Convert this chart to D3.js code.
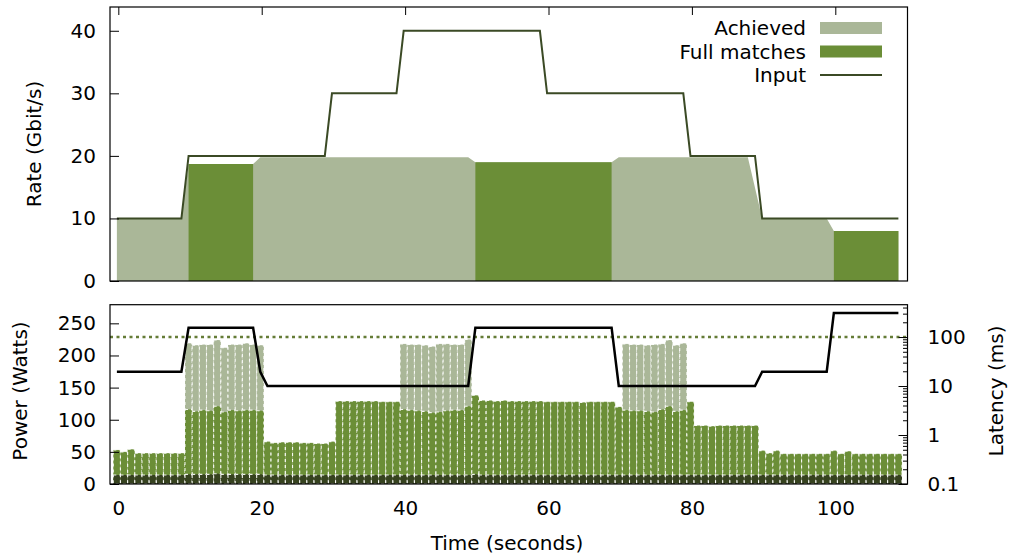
<!DOCTYPE html>
<html>
<head>
<meta charset="utf-8">
<script src="https://cdn.jsdelivr.net/npm/d3@7"></script>
<style>
body { margin: 0; background: #fff; }
text { font-family: "DejaVu Sans", sans-serif; font-size: 20px; fill: #000; }
</style>
</head>
<body>
<div id="chart-area"></div>
<script>

// samples are taken once per second, slightly before the tick
var T0 = -0.2;

// ---- top panel: rate (Gbit/s), one value per second
var inputRate = [
    10, 10, 10, 10, 10, 10, 10, 10, 10, 10,
    20, 20, 20, 20, 20, 20, 20, 20, 20, 20,
    20, 20, 20, 20, 20, 20, 20, 20, 20, 20,
    30, 30, 30, 30, 30, 30, 30, 30, 30, 30,
    40, 40, 40, 40, 40, 40, 40, 40, 40, 40,
    40, 40, 40, 40, 40, 40, 40, 40, 40, 40,
    30, 30, 30, 30, 30, 30, 30, 30, 30, 30,
    30, 30, 30, 30, 30, 30, 30, 30, 30, 30,
    20, 20, 20, 20, 20, 20, 20, 20, 20, 20,
    10, 10, 10, 10, 10, 10, 10, 10, 10, 10,
    10, 10, 10, 10, 10, 10, 10, 10, 10, 10
];
var achieved = [
    10, 10, 10, 10, 10, 10, 10, 10, 10, 10,
    18.7, 18.7, 18.7, 18.7, 18.7, 18.7, 18.7, 18.7, 18.7, 18.7,
    19.8, 19.8, 19.8, 19.8, 19.8, 19.8, 19.8, 19.8, 19.8, 19.8,
    19.8, 19.8, 19.8, 19.8, 19.8, 19.8, 19.8, 19.8, 19.8, 19.8,
    19.8, 19.8, 19.8, 19.8, 19.8, 19.8, 19.8, 19.8, 19.8, 19.8,
    19.0, 19.0, 19.0, 19.0, 19.0, 19.0, 19.0, 19.0, 19.0, 19.0,
    19.0, 19.0, 19.0, 19.0, 19.0, 19.0, 19.0, 19.0, 19.0, 19.0,
    19.8, 19.8, 19.8, 19.8, 19.8, 19.8, 19.8, 19.8, 19.8, 19.8,
    19.8, 19.8, 19.8, 19.8, 19.8, 19.8, 19.8, 19.8, 19.8, 14.9,
    10, 10, 10, 10, 10, 10, 10, 10, 10, 10,
    8.0, 8.0, 8.0, 8.0, 8.0, 8.0, 8.0, 8.0, 8.0, 8.0
];
var N = null;
var fullMatches = [
    N, N, N, N, N, N, N, N, N, N,
    18.7, 18.7, 18.7, 18.7, 18.7, 18.7, 18.7, 18.7, 18.7, 18.7,
    N, N, N, N, N, N, N, N, N, N,
    N, N, N, N, N, N, N, N, N, N,
    N, N, N, N, N, N, N, N, N, N,
    19.0, 19.0, 19.0, 19.0, 19.0, 19.0, 19.0, 19.0, 19.0, 19.0,
    19.0, 19.0, 19.0, 19.0, 19.0, 19.0, 19.0, 19.0, 19.0, 19.0,
    N, N, N, N, N, N, N, N, N, N,
    N, N, N, N, N, N, N, N, N, N,
    N, N, N, N, N, N, N, N, N, N,
    8.0, 8.0, 8.0, 8.0, 8.0, 8.0, 8.0, 8.0, 8.0, 8.0
];

// ---- bottom panel: power (Watts) bars and latency (ms)
var powerPeak = [
    N, N, N, N, N, N, N, N, N, N,
    219, 216, 217, 217, 224, 212, 217, 217, 219, 217,
    216, N, N, N, N, N, N, N, N, N,
    N, N, N, N, N, N, N, N, N, N,
    218, 217, 217, 216, 214, 218, 218, 217, 217, 225,
    N, N, N, N, N, N, N, N, N, N,
    N, N, N, N, N, N, N, N, N, N,
    N, 218, 217, 217, 216, 217, 218, 224, 216, 219,
    N, N, N, N, N, N, N, N, N, N,
    N, N, N, N, N, N, N, N, N, N,
    N, N, N, N, N, N, N, N, N, N
];
var powerTotal = [
    53, 50, 54, 48, 48, 48, 48, 48, 48, 48,
    116, 113, 115, 114, 121, 112, 115, 114, 115, 115,
    114, 66, 64, 65, 65, 65, 64, 64, 63, 63,
    66, 129, 129, 129, 129, 129, 129, 128, 128, 128,
    116, 115, 114, 113, 111, 112, 114, 115, 115, 121,
    138, 130, 130, 129, 130, 129, 129, 129, 129, 129,
    128, 128, 128, 128, 128, 127, 128, 128, 128, 128,
    120, 115, 114, 114, 113, 112, 116, 121, 113, 115,
    128, 91, 91, 90, 91, 91, 91, 91, 91, 91,
    52, 48, 52, 47, 47, 47, 47, 47, 47, 47,
    52, 47, 51, 47, 47, 47, 47, 47, 47, 47
];
var powerIdle = [
    14, 14, 14, 14, 14, 14, 14, 14, 14, 14,
    15, 15, 15, 15, 16, 15, 15, 15, 15, 15,
    15, 14, 14, 14, 14, 14, 14, 14, 14, 14,
    14, 14, 14, 14, 14, 14, 14, 14, 14, 14,
    14, 14, 14, 14, 14, 14, 14, 14, 14, 14,
    15, 14, 14, 14, 14, 14, 14, 14, 14, 14,
    14, 14, 14, 14, 14, 14, 14, 14, 14, 14,
    14, 14, 14, 14, 14, 14, 14, 14, 14, 14,
    14, 14, 14, 14, 14, 14, 14, 14, 14, 14,
    14, 14, 14, 14, 14, 14, 14, 14, 14, 14,
    14, 14, 14, 14, 14, 14, 14, 14, 14, 14
];
var latency = [
    19.5, 19.5, 19.5, 19.5, 19.5, 19.5, 19.5, 19.5, 19.5, 19.5,
    155, 155, 155, 155, 155, 155, 155, 155, 155, 155,
    19.5, 10, 10, 10, 10, 10, 10, 10, 10, 10,
    10, 10, 10, 10, 10, 10, 10, 10, 10, 10,
    10, 10, 10, 10, 10, 10, 10, 10, 10, 10,
    155, 155, 155, 155, 155, 155, 155, 155, 155, 155,
    155, 155, 155, 155, 155, 155, 155, 155, 155, 155,
    10, 10, 10, 10, 10, 10, 10, 10, 10, 10,
    10, 10, 10, 10, 10, 10, 10, 10, 10, 10,
    19.5, 19.5, 19.5, 19.5, 19.5, 19.5, 19.5, 19.5, 19.5, 19.5,
    310, 310, 310, 310, 310, 310, 310, 310, 310, 310
];
var latencyLimit = 100;

var xTicks = [0, 20, 40, 60, 80, 100];
var rateTicks = [0, 10, 20, 30, 40];
var powerTicks = [0, 50, 100, 150, 200, 250];
var latencyTicks = [0.1, 1, 10, 100];
var legendNames = ['Achieved', 'Full matches', 'Input'];

var col = {
    achieved: '#aab798',
    full: '#6b8e37',
    input: '#3b4a25',
    idle: '#36421f',
    limit: '#657c37'
};

var svg = d3.select('#chart-area').append('svg')
    .attr('width', 1011)
    .attr('height', 560);

var x = d3.scaleLinear().domain([-1.16, 110.07]).range([110, 907.5]);
var yRate = d3.scaleLinear().domain([0, 43.8]).range([281, 7]);
var yPow = d3.scaleLinear().domain([0, 279]).range([484, 304.7]);
var yLat = d3.scaleLog().domain([0.1, 457]).range([484, 304.7]);

var secs = d3.range(inputRate.length);
function tx(i) { return x(i + T0); }

function styleAxis(g) {
    g.select('.domain').remove();
    g.selectAll('line').attr('stroke', '#000');
    g.selectAll('text').attr('font-size', null).attr('font-family', null);
    g.attr('font-size', null).attr('font-family', null);
}

// ================= top panel
var gTop = svg.append('g');

gTop.append('path').datum(secs)
    .attr('fill', col.achieved)
    .attr('d', d3.area()
        .x(i => tx(i))
        .y0(yRate(0))
        .y1(i => yRate(achieved[i])));

gTop.append('path').datum(secs)
    .attr('fill', col.full)
    .attr('d', d3.area()
        .defined(i => fullMatches[i] != null)
        .x(i => tx(i))
        .y0(yRate(0))
        .y1(i => yRate(fullMatches[i])));

gTop.append('path').datum(secs)
    .attr('fill', 'none')
    .attr('stroke', col.input)
    .attr('stroke-width', 2)
    .attr('d', d3.line()
        .x(i => tx(i))
        .y(i => yRate(inputRate[i])));

gTop.append('g')
    .attr('transform', 'translate(110,0)')
    .call(d3.axisLeft(yRate).tickValues(rateTicks).tickSize(-9).tickPadding(14))
    .call(styleAxis);

gTop.append('g')
    .attr('transform', 'translate(0,7)')
    .call(d3.axisTop(x).tickValues(xTicks).tickSize(-8).tickFormat(''))
    .call(styleAxis);

gTop.append('rect')
    .attr('x', 110).attr('y', 7)
    .attr('width', 797.5).attr('height', 274)
    .attr('fill', 'none').attr('stroke', '#000').attr('stroke-width', 1.2);

// legend
var leg = gTop.append('g');
legendNames.forEach(function (name, k) {
    var ly = 28 + k * 23.5;
    leg.append('text')
        .attr('x', 806).attr('y', ly).attr('dy', '0.35em')
        .attr('text-anchor', 'end')
        .text(name);
    if (k < 2) {
        leg.append('rect')
            .attr('x', 820).attr('y', ly - 6)
            .attr('width', 62).attr('height', 12)
            .attr('fill', k == 0 ? col.achieved : col.full);
    } else {
        leg.append('line')
            .attr('x1', 820).attr('x2', 882)
            .attr('y1', ly).attr('y2', ly)
            .attr('stroke', col.input).attr('stroke-width', 2);
    }
});

// ================= bottom panel
var gBot = svg.append('g');

gBot.append('g')
    .attr('transform', 'translate(0,484)')
    .call(d3.axisBottom(x).tickValues(xTicks).tickSize(-9).tickPadding(17))
    .call(styleAxis);

var bw = x(1) - x(0);
function bars(vals, color) {
    gBot.append('g').selectAll('rect')
        .data(secs.filter(i => vals[i] != null))
        .enter()
        .append('rect')
        .attr('x', i => tx(i) - bw / 2)
        .attr('width', bw)
        .attr('y', i => yPow(vals[i]))
        .attr('height', i => yPow(0) - yPow(vals[i]))
        .attr('fill', color)
        .attr('stroke', '#fff')
        .attr('stroke-width', 1.1)
        .attr('stroke-opacity', 0.9)
        .attr('stroke-dasharray', '3,3');
}
bars(powerPeak, col.achieved);
bars(powerTotal, col.full);
bars(powerIdle, col.idle);

gBot.append('line')
    .attr('x1', 110).attr('x2', 907.5)
    .attr('y1', yLat(latencyLimit)).attr('y2', yLat(latencyLimit))
    .attr('stroke', col.limit)
    .attr('stroke-width', 2.5)
    .attr('stroke-dasharray', '3,3.5');

gBot.append('path').datum(secs)
    .attr('fill', 'none')
    .attr('stroke', '#000')
    .attr('stroke-width', 2.5)
    .attr('d', d3.line()
        .x(i => tx(i))
        .y(i => yLat(latency[i])));

gBot.append('g')
    .attr('transform', 'translate(110,0)')
    .call(d3.axisLeft(yPow).tickValues(powerTicks).tickSize(-9).tickPadding(14))
    .call(styleAxis);

// right log axis: majors with labels, then minor ticks
gBot.append('g')
    .attr('transform', 'translate(907.5,0)')
    .call(d3.axisRight(yLat).tickValues(latencyTicks).tickSize(-9).tickPadding(20)
        .tickFormat(d => String(d)))
    .call(styleAxis);

var minor = [];
[0.1, 1, 10, 100].forEach(function (dec) {
    for (var m = 2; m <= 9; m++) {
        if (dec * m <= 457) minor.push(dec * m);
    }
});
gBot.append('g')
    .attr('transform', 'translate(907.5,0)')
    .call(d3.axisRight(yLat).tickValues(minor).tickSize(-4.5).tickFormat(''))
    .call(styleAxis);

gBot.append('rect')
    .attr('x', 110).attr('y', 304.7)
    .attr('width', 797.5).attr('height', 179.3)
    .attr('fill', 'none').attr('stroke', '#000').attr('stroke-width', 1.2);

// axis titles
svg.append('text')
    .attr('transform', 'translate(34,144) rotate(-90)')
    .attr('text-anchor', 'middle').attr('dy', '0.35em')
    .text('Rate (Gbit/s)');
svg.append('text')
    .attr('transform', 'translate(20,391) rotate(-90)')
    .attr('text-anchor', 'middle').attr('dy', '0.35em')
    .text('Power (Watts)');
svg.append('text')
    .attr('transform', 'translate(996,391) rotate(-90)')
    .attr('text-anchor', 'middle').attr('dy', '0.35em')
    .text('Latency (ms)');
svg.append('text')
    .attr('x', 507).attr('y', 550)
    .attr('text-anchor', 'middle')
    .text('Time (seconds)');

</script>
</body>
</html>
